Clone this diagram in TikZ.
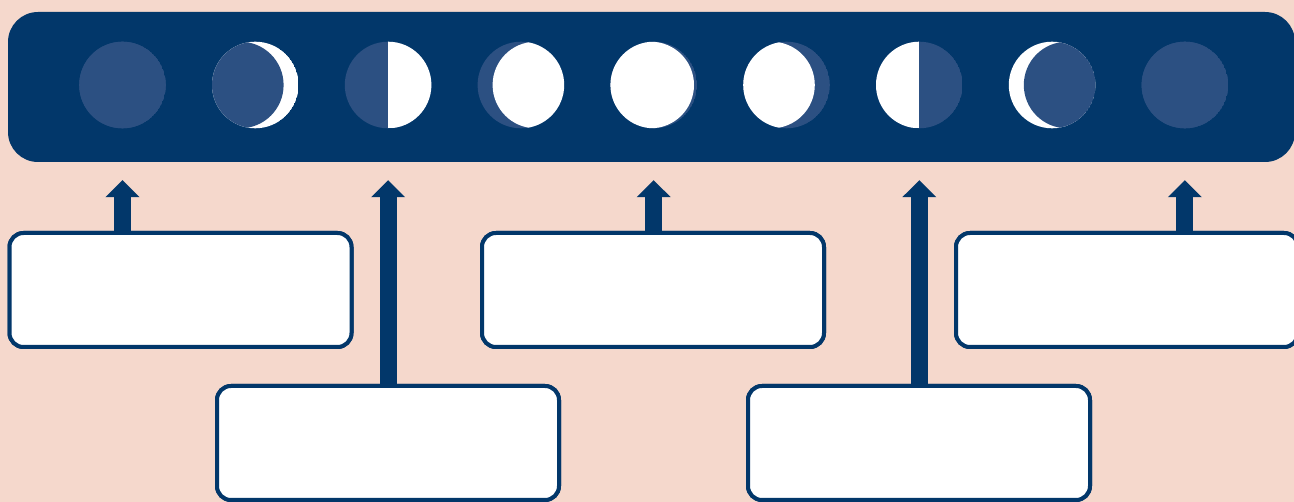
\documentclass[tikz,border=0pt]{standalone}
\usetikzlibrary{positioning, calc, arrows.meta}
\definecolor{navy}{HTML}{02376A}
\definecolor{moonshade}{HTML}{2C5082}
\definecolor{peach}{HTML}{F5D8CC}

\begin{document}
\begin{tikzpicture}[x=1pt, y=-1pt,
    infobox/.style={draw=navy, line width=4pt, fill=white, rounded corners=14pt,
        minimum width=342pt, minimum height=114pt, inner sep=0pt},
    moon/.style={circle, minimum size=86.6pt, inner sep=0pt},
    uparrow/.style={navy, line width=17pt, -{Triangle[width=33pt,length=17pt]}}]
    \fill[peach] (0,0) rectangle (1294,502);
    \useasboundingbox (0,0) rectangle (1294,502);
    \node[fill=navy, rounded corners=30pt, minimum width=1287pt, minimum height=150pt,
        inner sep=0pt] (band) at (651.5,87) {};
    \coordinate (tip) at ([yshift=-18pt]band.south);
    \foreach \i in {1,...,9}
        {
          \node[moon] (m\i) at ({122.5+132.8*(\i-1)},85) {};
        };
    % full discs and crescents
    \foreach \i/\base/\over/\dx in {1/moonshade/moonshade/0, 2/white/moonshade/-15,
        4/moonshade/white/15, 5/moonshade/white/-3, 6/moonshade/white/-15,
        8/white/moonshade/15, 9/moonshade/moonshade/0}
        {
          \begin{scope}
            \clip (m\i.center) circle (43.3pt);
            \fill[\base] (m\i.center) circle (43.3pt);
            \fill[\over] ([xshift=\dx pt]m\i.center) circle (43.3pt);
          \end{scope}
        };
    % quarters
    \begin{scope}
        \clip (m3.center) circle (43.3pt);
        \fill[moonshade] (m3.center) circle (43.3pt);
        \fill[white] (m3.north) rectangle ([xshift=50pt]m3.south);
    \end{scope}
    \begin{scope}
        \clip (m7.center) circle (43.3pt);
        \fill[moonshade] (m7.center) circle (43.3pt);
        \fill[white] (m7.north) rectangle ([xshift=-50pt]m7.south);
    \end{scope}

    \node[infobox] (b1) at (180.5,290) {};
    \node[infobox] (b2) at (653,290) {};
    \node[infobox] (b3) at (1127,290) {};
    \node[infobox] (b4) at (388,443) {};
    \node[infobox] (b5) at (919,443) {};

    \draw[uparrow] (b1.north -| m1) -- (tip -| m1);
    \draw[uparrow] (b2.north -| m5) -- (tip -| m5);
    \draw[uparrow] (b3.north -| m9) -- (tip -| m9);
    \draw[uparrow] (b4.north -| m3) -- (tip -| m3);
    \draw[uparrow] (b5.north -| m7) -- (tip -| m7);
    % boxes again on top of the shafts
    \node[infobox] at (b1) {};
    \node[infobox] at (b2) {};
    \node[infobox] at (b3) {};
    \node[infobox] at (b4) {};
    \node[infobox] at (b5) {};
\end{tikzpicture}
\end{document}
